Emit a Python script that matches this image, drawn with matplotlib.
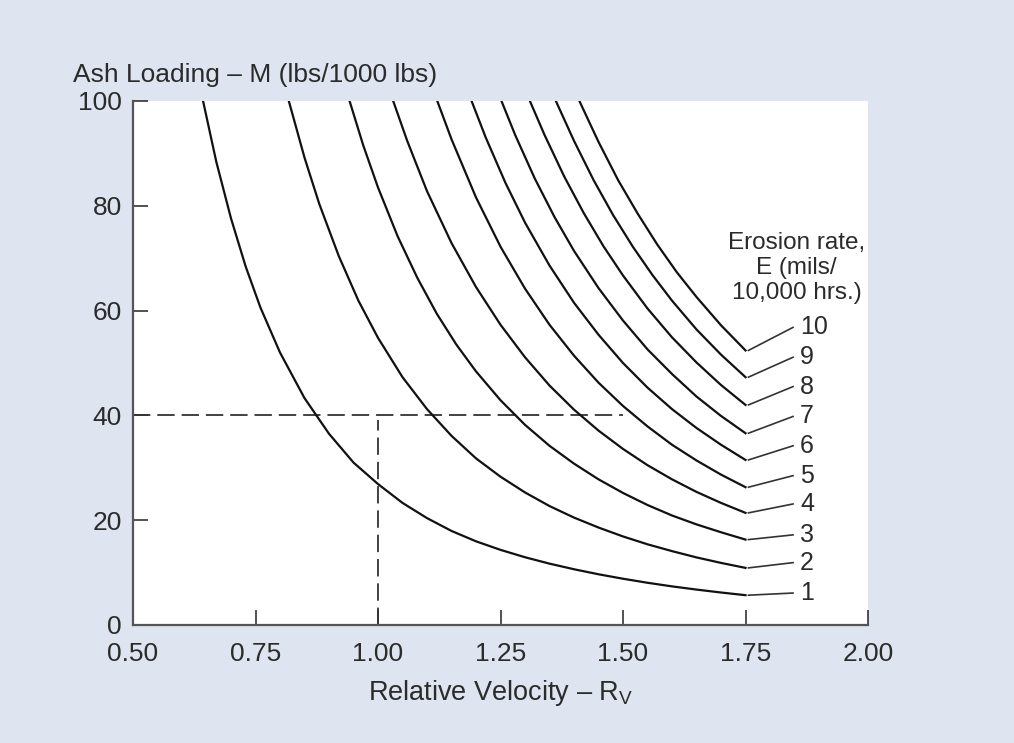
import matplotlib
matplotlib.use("Agg")
import matplotlib.pyplot as plt

plt.rcParams['font.family'] = ['Liberation Sans', 'DejaVu Sans']
plt.rcParams['mathtext.fontset'] = 'custom'
plt.rcParams['mathtext.rm'] = 'Liberation Sans'
plt.rcParams['lines.scale_dashes'] = False

## ************      Data       ****************************************
# erosion rate E (mils / 10,000 hrs) for each curve
erosion = [1, 2, 3, 4, 5, 6, 7, 8, 9, 10]

# relative velocity Rv and ash loading M along each curve
e1_rv = [0.643, 0.67, 0.70, 0.73, 0.76, 0.80, 0.85, 0.90, 0.95, 1.00, 1.05, 1.10, 1.15, 1.20,
         1.25, 1.30, 1.35, 1.40, 1.45, 1.50, 1.55, 1.60, 1.65, 1.70, 1.75]
e1_m = [100, 88.4, 77.6, 68.4, 60.6, 52.0, 43.3, 36.5, 31.0, 26.9, 23.3, 20.4, 17.95, 15.97,
        14.34, 12.93, 11.71, 10.64, 9.68, 8.83, 8.06, 7.37, 6.76, 6.20, 5.69]
e2_rv = [0.818, 0.85, 0.88, 0.92, 0.96, 1.00, 1.05, 1.10, 1.15, 1.20, 1.25, 1.30, 1.35, 1.40,
         1.45, 1.50, 1.55, 1.60, 1.65, 1.70, 1.75]
e2_m = [100, 89.2, 80.4, 70.4, 61.9, 54.8, 47.3, 41.2, 36.1, 31.8, 28.3, 25.3, 22.7, 20.5,
        18.6, 16.9, 15.4, 14.1, 12.9, 11.85, 10.9]
e3_rv = [0.942, 0.97, 1.00, 1.04, 1.08, 1.12, 1.16, 1.20, 1.25, 1.30, 1.35, 1.40, 1.45, 1.50,
         1.55, 1.60, 1.65, 1.70, 1.75]
e3_m = [100, 91.5, 83.5, 74.2, 66.3, 59.4, 53.5, 48.4, 42.9, 38.2, 34.2, 30.8, 27.8, 25.2,
        22.9, 20.9, 19.2, 17.7, 16.3]
e4_rv = [1.031, 1.06, 1.10, 1.15, 1.20, 1.25, 1.30, 1.35, 1.40, 1.45, 1.50, 1.55, 1.60, 1.65,
         1.70, 1.75]
e4_m = [100, 92.3, 82.8, 72.9, 64.5, 57.3, 51.1, 45.7, 41.1, 37.1, 33.6, 30.5, 27.8, 25.4,
        23.3, 21.4]
e5_rv = [1.121, 1.15, 1.20, 1.25, 1.30, 1.35, 1.40, 1.45, 1.50, 1.55, 1.60, 1.65, 1.70, 1.75]
e5_m = [100, 92.7, 81.6, 72.2, 64.2, 57.3, 51.4, 46.25, 41.8, 37.9, 34.4, 31.4, 28.7, 26.3]
e6_rv = [1.191, 1.22, 1.26, 1.30, 1.35, 1.40, 1.45, 1.50, 1.55, 1.60, 1.65, 1.70, 1.75]
e6_m = [100, 93.0, 84.4, 76.8, 68.6, 61.5, 55.4, 50.0, 45.3, 41.2, 37.6, 34.4, 31.5]
e7_rv = [1.252, 1.28, 1.32, 1.36, 1.40, 1.45, 1.50, 1.55, 1.60, 1.65, 1.70, 1.75]
e7_m = [100, 93.5, 85.2, 77.9, 71.4, 64.3, 58.1, 52.6, 47.9, 43.6, 39.9, 36.6]
e8_rv = [1.310, 1.34, 1.38, 1.42, 1.46, 1.50, 1.55, 1.60, 1.65, 1.70, 1.75]
e8_m = [100, 93.5, 85.6, 78.6, 72.3, 66.7, 60.4, 54.9, 50.1, 45.8, 42.0]
e9_rv = [1.363, 1.40, 1.44, 1.48, 1.52, 1.56, 1.60, 1.65, 1.70, 1.75]
e9_m = [100, 92.4, 84.9, 78.2, 72.2, 66.8, 61.9, 56.4, 51.6, 47.3]
e10_rv = [1.411, 1.45, 1.49, 1.53, 1.57, 1.61, 1.65, 1.70, 1.75]
e10_m = [100, 92.2, 84.9, 78.5, 72.6, 67.3, 62.6, 57.2, 52.4]

# height of the E labels on the right
label_m = [6.1, 11.9, 17.2, 23.1, 28.5, 34.2, 39.8, 45.5, 51.1, 56.8]

# worked example: M = 40, Rv = 1.0
example_m = 40
example_rv = 1.0

x_ticks = [0.50, 0.75, 1.00, 1.25, 1.50, 1.75, 2.00]
y_ticks = [0, 20, 40, 60, 80, 100]

curves_rv = [e1_rv, e2_rv, e3_rv, e4_rv, e5_rv, e6_rv, e7_rv, e8_rv, e9_rv, e10_rv]
curves_m = [e1_m, e2_m, e3_m, e4_m, e5_m, e6_m, e7_m, e8_m, e9_m, e10_m]

## ************      Figure       *********************
bg = '#dee4f0'
txt = '#2b2b2b'
W, H = 1014, 743
fig = plt.figure(figsize=(W / 100, H / 100), dpi=100, facecolor=bg)
ax = fig.add_axes([133 / W, 1 - 625 / H, 735 / W, 524 / H])
ax.set_facecolor('white')

for rv, m in zip(curves_rv, curves_m):
    ax.plot(rv, m, color='#111111', lw=1.6, solid_joinstyle='round', zorder=3)

# leader lines and labels
for e, rv, m, lm in zip(erosion, curves_rv, curves_m, label_m):
    ax.plot([rv[-1] + 0.006, 1.847], [m[-1], lm], color='#333333', lw=1.2, zorder=3, clip_on=False)
    ax.text(1.861, lm, str(e), fontsize=18, color=txt, ha='left', va='center')

ax.text(1.854, 68.2, "Erosion rate,\nE (mils/\n10,000 hrs.)", fontsize=17.5, color=txt,
        ha='center', va='center', linespacing=1.17)

# dashed guide lines
ax.plot([0.5, 1.5], [example_m, example_m], color='#333333', lw=1.3, dashes=(12.5, 5), zorder=2)
ax.plot([example_rv, example_rv], [0, example_m - 0.8], color='#333333', lw=1.3, dashes=(12.5, 5), zorder=2)

ax.set_xlim(0.5, 2.0)
ax.set_ylim(0, 100)
ax.spines['top'].set_visible(False)
ax.spines['right'].set_visible(False)
for s in ['left', 'bottom']:
    ax.spines[s].set_color('#555555')
    ax.spines[s].set_linewidth(1.6)

ax.set_xticks(x_ticks)
ax.set_xticklabels(["%.2f" % v for v in x_ticks])
ax.set_yticks(y_ticks)
ax.tick_params(direction='in', length=11, width=1.2, color='#333333', labelsize=19,
               labelcolor=txt)
ax.tick_params(axis='x', pad=12)
ax.tick_params(axis='y', pad=8)

ax.set_xlabel(r"Relative Velocity – R$_{\mathrm{V}}$", fontsize=19.5, color=txt, labelpad=9)
fig.text(73 / W, 1 - 75 / H, "Ash Loading – M (lbs/1000 lbs)", fontsize=19, color=txt,
         ha='left', va='center')

fig.savefig("out.png", dpi=100, facecolor=bg)
